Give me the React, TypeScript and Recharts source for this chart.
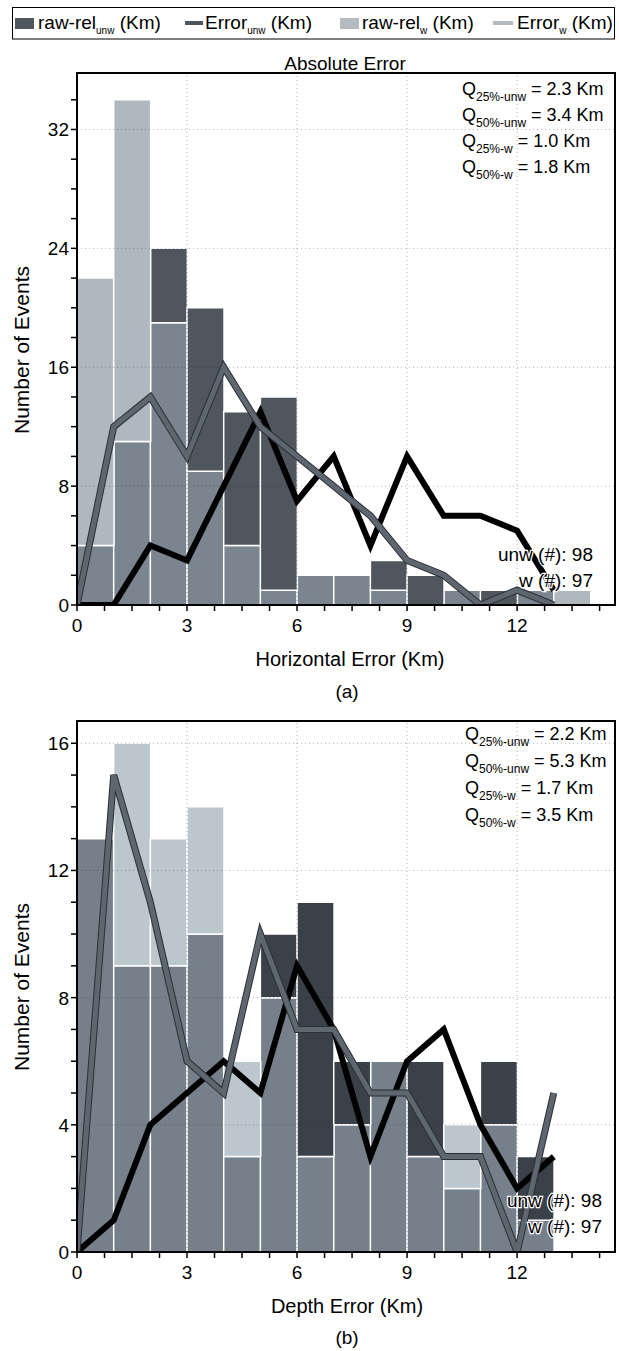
import { Bar, ComposedChart, Line, ReferenceArea, ReferenceLine, XAxis, YAxis } from 'recharts'

const FONT = '"Liberation Sans", Arial, Helvetica, sans-serif'

// ─── Data: (a) horizontal error ────────────────────────────────────────────────
// histogram bins are 1 Km wide, given by their left edge
const binStartsA = [0, 1, 2, 3, 4, 5, 6, 7, 8, 9, 10, 11, 12, 13]
const rawUnwA = [4, 11, 24, 20, 13, 14, 2, 2, 3, 2, 1, 1, 1, 0]
const rawWA = [22, 34, 19, 9, 4, 1, 2, 2, 1, 0, 1, 0, 1, 1]
const errXA = [0, 1, 2, 3, 4, 5, 6, 7, 8, 9, 10, 11, 12, 13]
const errUnwA = [0, 0, 4, 3, 8, 13, 7, 10, 4, 10, 6, 6, 5, 1]
const errWA = [0, 12, 14, 10, 16, 12, 10, 8, 6, 3, 2, 0, 1, 0]

// ─── Data: (b) depth error ─────────────────────────────────────────────────────
const binStartsB = [0, 1, 2, 3, 4, 5, 6, 7, 8, 9, 10, 11, 12]
const rawUnwB = [13, 9, 9, 10, 3, 10, 11, 6, 6, 6, 2, 6, 3]
const rawWB = [13, 16, 13, 14, 6, 8, 3, 4, 6, 3, 4, 4, 1]
const errXB = [0, 1, 2, 3, 4, 5, 6, 7, 8, 9, 10, 11, 12, 13]
const errUnwB = [0, 1, 4, 5, 6, 5, 9, 7, 3, 6, 7, 4, 2, 3]
const errWB = [0, 15, 11, 6, 5, 10, 7, 7, 5, 5, 3, 3, 0, 5]

// ─── Ticks ────────────────────────────────────────────────────────────────────
const xTicks = [0, 0.75, 1.5, 2.25, 3, 3.75, 4.5, 5.25, 6, 6.75, 7.5, 8.25, 9, 9.75, 10.5, 11.25, 12, 12.75, 13.5, 14.25]
const xGrid = [3, 6, 9, 12]
const yTicksA = [0, 2, 4, 6, 8, 10, 12, 14, 16, 18, 20, 22, 24, 26, 28, 30, 32, 34]
const yGridA = [8, 16, 24, 32]
const yTicksB = [0, 1, 2, 3, 4, 5, 6, 7, 8, 9, 10, 11, 12, 13, 14, 15, 16]
const yGridB = [4, 8, 12, 16]

const X_MAX = 14.67
const BIN_WIDTH = 1

interface Palette {
  dark: string
  mid: string
  light: string
}

const paletteA: Palette = { dark: '#4f565e', mid: '#7b858f', light: '#b0b8bf' }
const paletteB: Palette = { dark: '#3a4149', mid: '#75808b', light: '#bcc6cd' }

function makeBins(starts: number[], unw: number[], w: number[]) {
  return starts.map((s, i) => ({
    x: s + BIN_WIDTH / 2,
    mid: Math.min(unw[i], w[i]),
    dark: Math.max(0, unw[i] - w[i]),
    light: Math.max(0, w[i] - unw[i]),
  }))
}

function makePoints(xs: number[], vs: number[]) {
  return xs.map((x, i) => ({ x, v: vs[i] }))
}

// ─── Ticks ────────────────────────────────────────────────────────────────────

function XTick(props: any) {
  const { x, y, payload } = props
  const v = Number(payload.value)
  if (Math.abs(v % 3) > 1e-6) return <g />
  return (
    <text x={x} y={y} dy={19} textAnchor="middle" fontSize={19} fontFamily={FONT} fill="#000">
      {v}
    </text>
  )
}

function makeYTick(every: number) {
  return function YTick(props: any) {
    const { x, y, payload } = props
    const v = Number(payload.value)
    if (v % every !== 0) return <g />
    return (
      <text x={x} y={y} dy={7} textAnchor="end" fontSize={19} fontFamily={FONT} fill="#000">
        {v}
      </text>
    )
  }
}

// ─── Chart ────────────────────────────────────────────────────────────────────

interface HistProps {
  top: number
  height: number
  marginTop: number
  marginBottom: number
  binStarts: number[]
  rawUnw: number[]
  rawW: number[]
  errX: number[]
  errUnw: number[]
  errW: number[]
  yMax: number
  yTicks: number[]
  yLabelEvery: number
  yGrid: number[]
  palette: Palette
}

function HistChart(p: HistProps) {
  const bins = makeBins(p.binStarts, p.rawUnw, p.rawW)
  const unwPts = makePoints(p.errX, p.errUnw)
  const wPts = makePoints(p.errX, p.errW)
  const YTick = makeYTick(p.yLabelEvery)

  return (
    <div style={{ position: 'absolute', left: 0, top: p.top }}>
      <ComposedChart
        width={619}
        height={p.height}
        data={bins}
        margin={{ top: p.marginTop, right: 4, bottom: p.marginBottom, left: 27 }}
        barCategoryGap={0}
        barGap={0}
      >
        <XAxis
          xAxisId="l"
          dataKey="x"
          type="number"
          domain={[0, X_MAX]}
          allowDataOverflow
          ticks={xTicks}
          interval={0}
          height={35}
          tick={<XTick />}
          tickSize={6}
          axisLine={{ stroke: '#000', strokeWidth: 2 }}
          tickLine={{ stroke: '#000', strokeWidth: 1.5 }}
        />
        <XAxis xAxisId="b" dataKey="x" type="number" domain={[0, X_MAX]} allowDataOverflow hide height={0} />
        <YAxis
          type="number"
          domain={[0, p.yMax]}
          allowDataOverflow
          ticks={p.yTicks}
          interval={0}
          width={50}
          tick={<YTick />}
          tickSize={6}
          axisLine={{ stroke: '#000', strokeWidth: 2 }}
          tickLine={{ stroke: '#000', strokeWidth: 1.5 }}
        />

        <Bar xAxisId="b" dataKey="mid" stackId="h" fill={p.palette.mid} stroke="#fff" strokeWidth={1.5} isAnimationActive={false} />
        <Bar xAxisId="b" dataKey="dark" stackId="h" fill={p.palette.dark} stroke="#fff" strokeWidth={1.5} isAnimationActive={false} />
        <Bar xAxisId="b" dataKey="light" stackId="h" fill={p.palette.light} stroke="#fff" strokeWidth={1.5} isAnimationActive={false} />

        {xGrid.map((v) => (
          <ReferenceLine key={`gx${v}`} xAxisId="l" x={v} stroke="#000" strokeOpacity={0.3} strokeDasharray="1 3" />
        ))}
        {p.yGrid.map((v) => (
          <ReferenceLine key={`gy${v}`} xAxisId="l" y={v} stroke="#000" strokeOpacity={0.3} strokeDasharray="1 3" />
        ))}

        <Line
          xAxisId="l"
          data={unwPts}
          dataKey="v"
          type="linear"
          stroke="#000"
          strokeWidth={6}
          dot={false}
          activeDot={false}
          isAnimationActive={false}
        />
        <Line
          xAxisId="l"
          data={wPts}
          dataKey="v"
          type="linear"
          stroke="#2b3036"
          strokeWidth={7}
          dot={false}
          activeDot={false}
          isAnimationActive={false}
        />
        <Line
          xAxisId="l"
          data={wPts}
          dataKey="v"
          type="linear"
          stroke="#5e666f"
          strokeWidth={5}
          dot={false}
          activeDot={false}
          isAnimationActive={false}
        />

        <ReferenceArea xAxisId="l" x1={0} x2={X_MAX} y1={0} y2={p.yMax} fill="none" stroke="#000" strokeWidth={2} />
      </ComposedChart>
    </div>
  )
}

// ─── Texts ────────────────────────────────────────────────────────────────────

function QLine({ x, y, sub, value }: { x: number; y: number; sub: string; value: string }) {
  return (
    <text x={x} y={y} fontSize={18} fontFamily={FONT} fill="#000">
      Q
      <tspan fontSize={12} dy={6}>
        {sub}
      </tspan>
      <tspan fontSize={18} dy={-6}>
        {` = ${value} Km`}
      </tspan>
    </text>
  )
}

function Count({ x, y, text }: { x: number; y: number; text: string }) {
  return (
    <text
      x={x}
      y={y}
      fontSize={19}
      fontFamily={FONT}
      textAnchor="end"
      fill="#000"
      stroke="#fff"
      strokeWidth={2.5}
      paintOrder="stroke"
    >
      {text}
    </text>
  )
}

function LegendText({ x, main, sub }: { x: number; main: string; sub: string }) {
  return (
    <text x={x} y={29} fontSize={19} fontFamily={FONT} fill="#000">
      {main}
      <tspan fontSize={10} dy={5}>
        {sub}
      </tspan>
      <tspan fontSize={19} dy={-5}>
        {' (Km)'}
      </tspan>
    </text>
  )
}

export default function App() {
  return (
    <div style={{ position: 'absolute', left: 0, top: 0, width: 619, height: 1351, background: '#fff' }}>
      <HistChart
        top={0}
        height={640}
        marginTop={73}
        marginBottom={0}
        binStarts={binStartsA}
        rawUnw={rawUnwA}
        rawW={rawWA}
        errX={errXA}
        errUnw={errUnwA}
        errW={errWA}
        yMax={35.8}
        yTicks={yTicksA}
        yLabelEvery={8}
        yGrid={yGridA}
        palette={paletteA}
      />
      <HistChart
        top={650}
        height={640}
        marginTop={71}
        marginBottom={3}
        binStarts={binStartsB}
        rawUnw={rawUnwB}
        rawW={rawWB}
        errX={errXB}
        errUnw={errUnwB}
        errW={errWB}
        yMax={16.7}
        yTicks={yTicksB}
        yLabelEvery={4}
        yGrid={yGridB}
        palette={paletteB}
      />

      <svg
        width={619}
        height={1351}
        style={{ position: 'absolute', left: 0, top: 0, pointerEvents: 'none' }}
      >
        {/* legend */}
        <rect x={12.5} y={7.5} width={602} height={31.5} fill="none" stroke="#000" strokeWidth={1} />
        <rect x={15} y={18} width={19} height={11} fill="#4f565e" />
        <LegendText x={38} main="raw-rel" sub="unw" />
        <rect x={185} y={21} width={18} height={4} fill="#4f565e" />
        <LegendText x={205} main="Error" sub="unw" />
        <rect x={340} y={18} width={19} height={11} fill="#b3bbc1" />
        <LegendText x={362} main="raw-rel" sub="w" />
        <rect x={493} y={21} width={20} height={4} fill="#b3bbc1" />
        <LegendText x={517} main="Error" sub="w" />

        {/* (a) */}
        <text x={345} y={70} fontSize={19} fontFamily={FONT} textAnchor="middle">
          Absolute Error
        </text>
        <text transform="translate(22,350) rotate(-90)" dy={7} fontSize={21} fontFamily={FONT} textAnchor="middle">
          Number of Events
        </text>
        <text x={350} y={666} fontSize={20} fontFamily={FONT} textAnchor="middle">
          Horizontal Error (Km)
        </text>
        <text x={347} y={698} fontSize={19} fontFamily={FONT} textAnchor="middle">
          (a)
        </text>
        <QLine x={462} y={95} sub="25%-unw" value="2.3" />
        <QLine x={462} y={121} sub="50%-unw" value="3.4" />
        <QLine x={462} y={147} sub="25%-w" value="1.0" />
        <QLine x={462} y={173} sub="50%-w" value="1.8" />
        <Count x={593} y={561} text="unw (#): 98" />
        <Count x={593} y={587} text="w (#): 97" />

        {/* (b) */}
        <text transform="translate(22,987) rotate(-90)" dy={7} fontSize={21} fontFamily={FONT} textAnchor="middle">
          Number of Events
        </text>
        <text x={347} y={1313} fontSize={20} fontFamily={FONT} textAnchor="middle">
          Depth Error (Km)
        </text>
        <text x={347} y={1344} fontSize={19} fontFamily={FONT} textAnchor="middle">
          (b)
        </text>
        <QLine x={465} y={740} sub="25%-unw" value="2.2" />
        <QLine x={465} y={767} sub="50%-unw" value="5.3" />
        <QLine x={465} y={794} sub="25%-w" value="1.7" />
        <QLine x={465} y={821} sub="50%-w" value="3.5" />
        <Count x={602} y={1207} text="unw (#): 98" />
        <Count x={602} y={1233} text="w (#): 97" />
      </svg>
    </div>
  )
}
